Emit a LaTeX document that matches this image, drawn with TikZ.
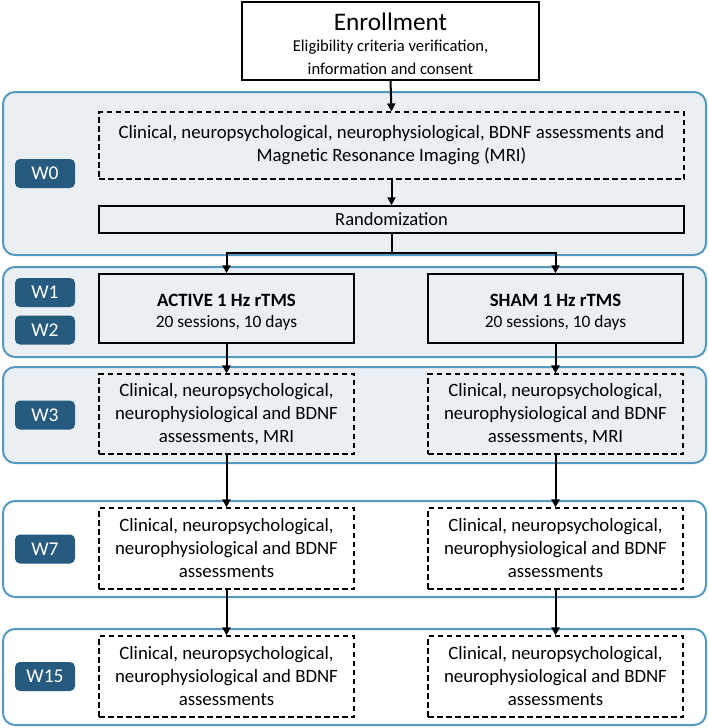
\documentclass[tikz,border=0pt]{standalone}
\usepackage{fontspec}
\setmainfont{Carlito}
\usetikzlibrary{arrows.meta}
\definecolor{panelfill}{RGB}{234,239,244}
\definecolor{panelline}{RGB}{86,153,192}
\definecolor{labelfill}{RGB}{38,90,126}
\tikzset{
  panel/.style={draw=panelline, line width=2pt, rounded corners=12pt},
  wlabel/.style={fill=labelfill, rounded corners=5pt, text=white, minimum width=60pt, minimum height=29pt, inner sep=0pt, font=\fontsize{19.5}{22}\selectfont},
  solidbox/.style={draw=black, line width=1.5pt, inner sep=0pt, align=center},
  dashbox/.style={draw=black, line width=1.2pt, dash pattern=on 5.5pt off 3.5pt, inner sep=0pt, align=center, font=\fontsize{18.8}{23}\selectfont},
  arr/.style={line width=2pt, -{Triangle[length=8pt,width=8pt]}},
  conn/.style={line width=2pt}
}
\begin{document}
\begin{tikzpicture}[x=1pt,y=-1pt]
\useasboundingbox (0,0) rectangle (709,728);
% panels
\draw[panel, fill=panelfill] (3,92) rectangle (706,255);
\draw[panel, fill=panelfill] (3,267) rectangle (706,357);
\draw[panel, fill=panelfill] (3,367) rectangle (706,463);
\draw[panel, fill=white] (3,501) rectangle (706,597);
\draw[panel, fill=white] (3,629) rectangle (706,725);
% labels
\node[wlabel] (l0) at (45,173.5) {W0};
\node[wlabel] (l1) at (45,292.5) {W1};
\node[wlabel] (l2) at (45,330) {W2};
\node[wlabel] (l3) at (45,415) {W3};
\node[wlabel] (l7) at (45,549) {W7};
\node[wlabel] (l15) at (45,676.5) {W15};
% enrollment
\node[solidbox, fill=white, minimum width=297pt, minimum height=78pt, font=\fontsize{16.6}{23}\selectfont] (enrol) at (390.5,41)
  {\rule{0pt}{24pt}{\fontsize{25.3}{26}\selectfont Enrollment}\\[-2pt]
   Eligibility criteria verification,\\
   information and consent};
% W0
\node[dashbox, minimum width=585pt, minimum height=67pt] (w0) at (391.5,145.5)
  {Clinical, neuropsychological, neurophysiological, BDNF assessments and\\Magnetic Resonance Imaging (MRI)};
\node[solidbox, minimum width=585pt, minimum height=27pt, font=\fontsize{18.5}{22}\selectfont] (rand) at (391.5,219.5) {Randomization};
% treatments
\node[solidbox, minimum width=255pt, minimum height=69pt, font=\fontsize{17.4}{21}\selectfont] (act) at (226.5,308.5)
  {\rule{0pt}{20pt}{\fontsize{18.8}{22}\selectfont\bfseries ACTIVE 1 Hz rTMS}\\20 sessions, 10 days};
\node[solidbox, minimum width=255pt, minimum height=69pt, font=\fontsize{17.4}{21}\selectfont] (sham) at (555.5,308.5)
  {\rule{0pt}{20pt}{\fontsize{18.8}{22}\selectfont\bfseries SHAM 1 Hz rTMS}\\20 sessions, 10 days};
% W3
\node[dashbox, minimum width=255pt, minimum height=80pt] (a3) at (226.5,414)
  {Clinical, neuropsychological,\\neurophysiological and BDNF\\assessments, MRI};
\node[dashbox, minimum width=255pt, minimum height=80pt] (s3) at (555.5,414)
  {Clinical, neuropsychological,\\neurophysiological and BDNF\\assessments, MRI};
% W7
\node[dashbox, minimum width=255pt, minimum height=81pt] (a7) at (226.5,548.5)
  {Clinical, neuropsychological,\\neurophysiological and BDNF\\assessments};
\node[dashbox, minimum width=255pt, minimum height=81pt] (s7) at (555.5,548.5)
  {Clinical, neuropsychological,\\neurophysiological and BDNF\\assessments};
% W15
\node[dashbox, minimum width=255pt, minimum height=81pt] (a15) at (226.5,676.5)
  {Clinical, neuropsychological,\\neurophysiological and BDNF\\assessments};
\node[dashbox, minimum width=255pt, minimum height=81pt] (s15) at (555.5,676.5)
  {Clinical, neuropsychological,\\neurophysiological and BDNF\\assessments};
% connectors
\draw[arr] (enrol.south) -- (w0.north);
\draw[arr] (w0.south) -- (rand.north);
\coordinate (split) at (391.5,253);
\draw[conn] (rand.south) -- (split);
\draw[arr] (split) -| (act.north);
\draw[arr] (split) -| (sham.north);
\draw[arr] (act.south) -- (a3.north);
\draw[arr] (sham.south) -- (s3.north);
\draw[arr] (a3.south) -- (a7.north);
\draw[arr] (s3.south) -- (s7.north);
\draw[arr] (a7.south) -- (a15.north);
\draw[arr] (s7.south) -- (s15.north);
\end{tikzpicture}
\end{document}
